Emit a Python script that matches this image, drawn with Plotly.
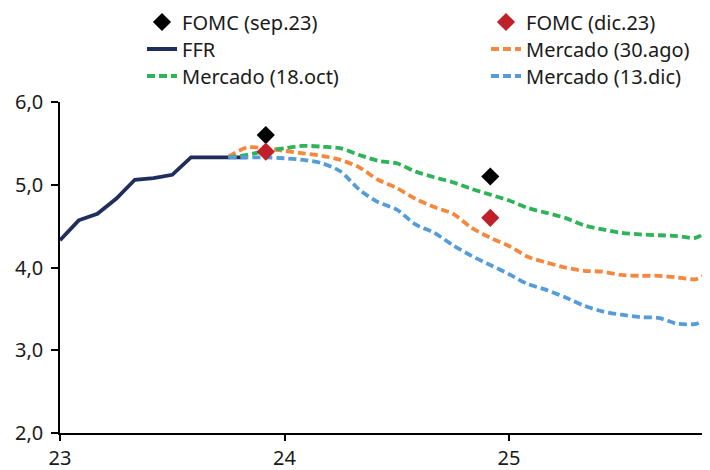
import plotly.graph_objects as go

# ---- data ----
ffr_months = [0, 1, 2, 3, 4, 5, 6, 7, 8, 9, 10]
ffr_values = [4.33, 4.57, 4.65, 4.83, 5.06, 5.08, 5.12, 5.33, 5.33, 5.33, 5.33]

mkt_months = list(range(9, 36))
mkt_30ago = [5.34, 5.45, 5.44, 5.41, 5.38, 5.35, 5.30, 5.21, 5.06, 4.96, 4.83, 4.73, 4.65,
             4.48, 4.36, 4.26, 4.13, 4.06, 4.00, 3.96, 3.95, 3.91, 3.90, 3.90, 3.88, 3.86, 3.99]
mkt_18oct = [5.33, 5.36, 5.41, 5.44, 5.47, 5.46, 5.44, 5.36, 5.29, 5.26, 5.16, 5.09, 5.03,
             4.95, 4.88, 4.81, 4.72, 4.66, 4.60, 4.51, 4.46, 4.42, 4.40, 4.39, 4.38, 4.36, 4.51]
mkt_13dic = [5.33, 5.33, 5.33, 5.32, 5.30, 5.26, 5.16, 4.94, 4.79, 4.70, 4.52, 4.42, 4.27,
             4.14, 4.03, 3.92, 3.80, 3.73, 3.64, 3.54, 3.47, 3.43, 3.40, 3.39, 3.32, 3.32, 3.42]

fomc_months = [11, 23, 35]
fomc_sep23 = [5.6, 5.1, 3.9]
fomc_dic23 = [5.4, 4.6, 3.6]

x_ticks = [23, 24, 25]
x_ticklabels = ["23", "24", "25"]
y_ticks = [2, 3, 4, 5, 6]


def to_x(months):
    return [23 + m / 12 for m in months]


FONT = "Noto Sans"
fig = go.Figure()

dash = "8px,4px"
lw = 3.8
fig.add_trace(go.Scatter(x=to_x(ffr_months), y=ffr_values, mode="lines", name="FFR",
                         line=dict(color="#1F2E5C", width=lw), legend="legend3"))
fig.add_trace(go.Scatter(x=to_x(mkt_months), y=mkt_30ago, mode="lines", name="Mercado (30.ago)",
                         line=dict(color="#F5883F", width=lw, dash=dash, shape="spline", smoothing=0.8),
                         legend="legend4"))
fig.add_trace(go.Scatter(x=to_x(mkt_months), y=mkt_18oct, mode="lines", name="Mercado (18.oct)",
                         line=dict(color="#2DB358", width=lw, dash=dash, shape="spline", smoothing=0.8),
                         legend="legend5"))
fig.add_trace(go.Scatter(x=to_x(mkt_months), y=mkt_13dic, mode="lines", name="Mercado (13.dic)",
                         line=dict(color="#549DD8", width=lw, dash=dash, shape="spline", smoothing=0.8),
                         legend="legend6"))
fig.add_trace(go.Scatter(x=to_x(fomc_months), y=fomc_sep23, mode="markers", name="FOMC (sep.23)",
                         marker=dict(symbol="diamond", size=14, color="#000000"), legend="legend"))
fig.add_trace(go.Scatter(x=to_x(fomc_months), y=fomc_dic23, mode="markers", name="FOMC (dic.23)",
                         marker=dict(symbol="diamond", size=14, color="#C0202A"), legend="legend2"))

# page offset of 8px; plot area in page px: x 60..710, y 102..433
W, H = 702, 462
ML, MT, MB = 52, 94, 37
MR = 0
PW = W - ML - MR          # 650
PH = H - MT - MB          # 331
X0 = 8 + ML               # 60
Y1 = 8 + MT + PH          # 433


def px_x(p):
    return (p - X0) / PW


def px_y(p):
    return (Y1 - p) / PH


leg_common = dict(bgcolor="rgba(0,0,0,0)", font=dict(family=FONT, size=20, color="#1a1a1a"),
                  xanchor="left", yanchor="middle", orientation="h", borderwidth=0)
col1 = px_x(142)
col2 = px_x(486)
rows = [px_y(22), px_y(49), px_y(76)]
layout_legends = {
    "legend": dict(x=col1, y=rows[0], **leg_common),
    "legend2": dict(x=col2, y=rows[0], **leg_common),
    "legend3": dict(x=col1, y=rows[1], **leg_common),
    "legend4": dict(x=col2, y=rows[1], **leg_common),
    "legend5": dict(x=col1, y=rows[2], **leg_common),
    "legend6": dict(x=col2, y=rows[2], **leg_common),
}

fig.update_layout(
    width=W, height=H,
    margin=dict(l=ML, r=MR, t=MT, b=MB, pad=0, autoexpand=False),
    paper_bgcolor="white", plot_bgcolor="white",
    separators=",.",
    font=dict(family=FONT, size=20, color="#1a1a1a"),
    showlegend=True,
    **layout_legends,
)
x_end = 23 + PW / 224.5
fig.update_xaxes(range=[23, x_end], tickvals=x_ticks, ticktext=x_ticklabels,
                 showgrid=False, zeroline=False, showline=True, linecolor="#000000", linewidth=1.5,
                 ticks="outside", ticklen=6, tickwidth=1.5, tickcolor="#000000",
                 tickfont=dict(family=FONT, size=20, color="#1a1a1a"))
fig.update_yaxes(range=[2, 6], tickvals=y_ticks, tickformat=".1f",
                 showgrid=False, zeroline=False, showline=True, linecolor="#000000", linewidth=1.5,
                 ticks="outside", ticklen=7, tickwidth=1.5, tickcolor="#000000",
                 ticklabelstandoff=4,
                 tickfont=dict(family=FONT, size=20, color="#1a1a1a"))

fig.write_html("out.html")
